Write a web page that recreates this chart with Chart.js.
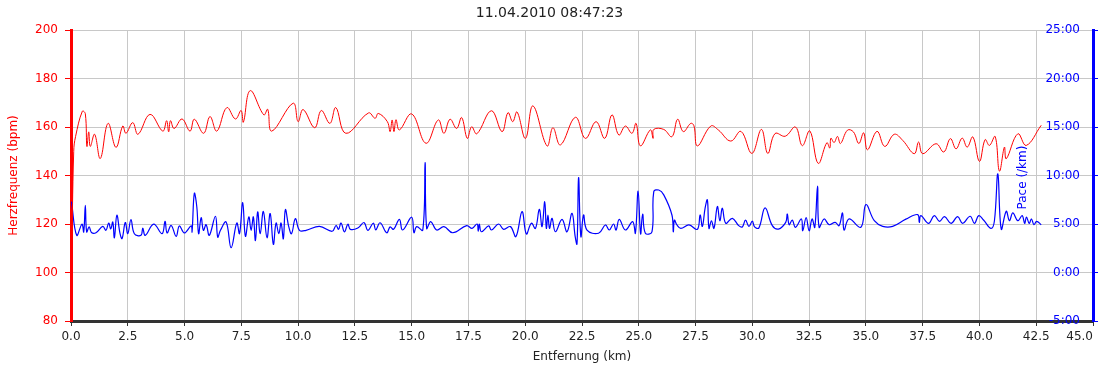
<!DOCTYPE html>
<html>
<head>
<meta charset="utf-8">
<script src="https://cdn.jsdelivr.net/npm/chart.js@4.4.0/dist/chart.umd.min.js"></script>
<style>
html, body { margin: 0; padding: 0; background: #fff; }
#wrap { width: 1099px; height: 372px; }
</style>
</head>
<body>
<div id="wrap"><canvas id="c" width="1099" height="372"></canvas></div>
<script>
// run header + axis texts
const chartTitle = '11.04.2010 08:47:23';
const xTitle = 'Entfernung (km)';
const hrTitle = 'Herzfrequenz (bpm)';
const paceTitle = 'Pace (/km)';

// heart rate, km vs bpm
const hrKm = [0.03, 0.12, 0.2, 0.5, 0.63, 0.7, 0.78, 0.85, 1.04, 1.29, 1.63, 1.98, 2.28, 2.42, 2.72, 2.95, 3.48, 4.04, 4.21, 4.3,
  4.38, 4.54, 4.89, 5.24, 5.43, 5.84, 6.12, 6.42, 6.86, 7.24, 7.49, 7.59, 7.89, 8.49, 8.66, 8.84, 9.78, 10.0, 10.22, 10.73,
  11.02, 11.4, 11.66, 12.1, 13.1, 13.39, 13.53, 13.93, 14.05, 14.14, 14.22, 14.31, 14.46, 15.0, 15.63, 16.17, 16.42, 16.69, 16.98, 17.2,
  17.45, 17.64, 17.87, 18.51, 18.98, 19.24, 19.45, 19.64, 20.01, 20.34, 20.96, 21.22, 21.55, 22.21, 22.65, 23.12, 23.5, 23.82, 24.12, 24.41,
  24.7, 24.88, 25.07, 25.51, 25.63, 25.66, 26.1, 26.46, 26.71, 26.96, 27.29, 27.43, 27.58, 28.17, 28.5, 29.05, 29.5, 29.98, 30.4, 30.68,
  31.0, 31.45, 31.9, 32.2, 32.53, 32.9, 33.28, 33.41, 33.46, 33.6, 33.75, 33.88, 34.19, 34.45, 34.69, 34.9, 35.07, 35.49, 35.83, 36.25,
  36.62, 37.13, 37.32, 37.5, 38.09, 38.43, 38.72, 38.97, 39.24, 39.46, 39.71, 40.0, 40.25, 40.44, 40.69, 40.88, 41.1, 41.18, 41.69, 42.06, 42.72];
const hrBpm = [104, 150, 156, 166.5, 165.5, 152, 158, 152, 157, 147, 161.5, 151.6, 160.4, 157.4, 161.8, 157, 165.2, 158.3, 162.6, 158,
  162.6, 159.4, 163.3, 158.3, 163.2, 157.4, 164.3, 158.3, 168, 163.3, 166.8, 162, 175, 165, 167.3, 158.3, 169.8, 162.2, 167.2, 159.7,
  166.8, 161.5, 168, 157.4, 165.8, 163.6, 165.6, 162.2, 158.1, 162.9, 158.1, 163, 158.8, 165.4, 153.3, 162.9, 157.4, 163.2, 159.4, 163.9,
  155.3, 160.1, 157.2, 166.7, 158.1, 165.9, 162.2, 166.2, 155.3, 168.7, 152.2, 159.7, 152.6, 164, 155.3, 162.2, 155.3, 165, 156.7, 160.4,
  157.4, 161.5, 152.2, 158.8, 155.3, 159, 159, 156, 163.2, 158.1, 161.5, 160.5, 152.2, 160.4, 158.8, 154.2, 158.2, 149.1, 159, 149.1,
  157.3, 156.2, 160, 152.3, 158.4, 145, 153.5, 151.3, 155.4, 153.6, 156.1, 153.2, 158.7, 158, 153.2, 157.6, 150.6, 158.2, 152, 157,
  154.5, 149, 153.8, 149, 153.1, 149.7, 155.2, 151, 155.4, 151.7, 155.9, 145.8, 154.8, 152.4, 156.1, 141.8, 151.7, 146.9, 157.2, 152.4, 160.7];

// pace, km vs minutes per km
const paceKm = [0.02, 0.25, 0.48, 0.56, 0.63, 0.69, 0.8, 0.9, 1.1, 1.4, 1.54, 1.66, 1.75, 1.84, 1.91, 2.02, 2.16, 2.25, 2.39, 2.5,
  2.64, 2.79, 3.08, 3.16, 3.27, 3.64, 4.01, 4.14, 4.23, 4.41, 4.63, 4.77, 4.99, 5.29, 5.33, 5.43, 5.54, 5.62, 5.73, 5.83,
  5.95, 6.09, 6.36, 6.46, 6.58, 6.83, 7.05, 7.3, 7.42, 7.56, 7.68, 7.83, 7.93, 8.03, 8.12, 8.22, 8.33, 8.47, 8.63, 8.77,
  8.91, 9.03, 9.15, 9.25, 9.35, 9.44, 9.59, 9.71, 9.88, 10.06, 10.35, 10.94, 11.5, 11.67, 11.78, 11.89, 12.04, 12.19, 12.3, 12.63,
  12.9, 13.07, 13.31, 13.42, 13.61, 13.9, 14.05, 14.2, 14.46, 14.6, 15.0, 15.1, 15.22, 15.49, 15.59, 15.66, 15.84, 16.1, 16.42, 16.81,
  17.42, 17.66, 17.88, 17.93, 17.98, 18.07, 18.39, 18.51, 18.83, 19.05, 19.35, 19.59, 19.86, 20.05, 20.27, 20.45, 20.62, 20.74, 20.86, 20.93,
  21.0, 21.07, 21.18, 21.33, 21.62, 21.84, 22.06, 22.2, 22.28, 22.35, 22.45, 22.57, 22.72, 23.23, 23.53, 23.7, 23.89, 24.0, 24.14, 24.41,
  24.73, 24.85, 24.97, 25.08, 25.17, 25.29, 25.58, 25.66, 25.88, 26.1, 26.46, 26.52, 26.57, 26.68, 26.85, 27.21, 27.58, 27.7, 27.8, 27.92,
  28.02, 28.09, 28.2, 28.31, 28.46, 28.57, 28.68, 28.83, 29.12, 29.4, 29.56, 29.7, 29.85, 30.0, 30.1, 30.29, 30.56, 30.88, 31.15, 31.47,
  31.54, 31.62, 31.76, 31.9, 32.16, 32.22, 32.37, 32.5, 32.63, 32.75, 32.87, 32.94, 33.16, 33.38, 33.65, 33.82, 33.97, 34.04, 34.26, 34.78,
  35.0, 35.37, 35.74, 36.18, 36.76, 37.28, 37.35, 37.42, 37.76, 38.01, 38.24, 38.46, 38.75, 39.04, 39.26, 39.59, 39.78, 39.97, 40.18, 40.51,
  40.66, 40.81, 40.96, 41.18, 41.32, 41.47, 41.69, 41.88, 41.99, 42.07, 42.19, 42.29, 42.4, 42.52, 42.72];
const paceMin = [7.3, 3.83, 4.98, 4.18, 6.93, 4.18, 4.7, 4.13, 4.1, 4.75, 4.35, 5.1, 4.5, 5.2, 3.58, 5.9, 4.0, 3.5, 5.15, 4.0,
  5.45, 4.0, 3.83, 4.58, 3.83, 4.98, 4.0, 5.28, 4.08, 4.85, 3.73, 4.8, 4.08, 4.8, 4.18, 8.15, 6.75, 4.0, 5.65, 4.35,
  4.93, 3.83, 5.8, 3.65, 4.35, 5.2, 2.55, 5.1, 4.0, 7.2, 3.73, 5.73, 4.35, 5.73, 3.3, 6.25, 4.0, 6.3, 3.58, 6.08,
  2.9, 5.1, 4.0, 5.1, 3.48, 6.48, 4.7, 4.0, 5.55, 4.35, 4.35, 4.75, 4.25, 4.85, 4.45, 5.1, 4.18, 4.98, 4.45, 4.58,
  5.15, 4.35, 5.08, 4.4, 5.13, 4.1, 4.7, 4.45, 5.48, 4.38, 5.7, 4.1, 4.73, 4.38, 11.33, 4.55, 5.25, 4.38, 4.73, 4.1,
  4.83, 4.55, 5.0, 4.25, 5.0, 4.2, 4.8, 4.38, 5.0, 4.45, 4.73, 3.7, 6.28, 3.98, 5.08, 4.55, 6.5, 4.73, 7.3, 4.55,
  5.93, 4.55, 5.58, 4.2, 5.48, 4.2, 6.1, 3.7, 2.95, 9.78, 3.7, 5.93, 4.38, 4.05, 4.9, 4.38, 5.0, 4.38, 5.48, 4.38,
  5.25, 4.05, 8.4, 3.98, 6.03, 4.05, 4.2, 8.33, 8.5, 8.0, 5.93, 4.2, 5.4, 4.9, 4.55, 4.9, 4.45, 5.93, 4.75, 6.63,
  7.48, 4.55, 5.33, 4.55, 6.8, 5.33, 6.63, 5.08, 5.58, 4.83, 4.7, 5.4, 4.75, 5.3, 4.7, 4.6, 6.66, 4.83, 4.48, 5.17,
  6.03, 4.93, 5.4, 4.66, 5.52, 4.3, 5.66, 4.3, 5.52, 4.66, 8.9, 4.66, 5.52, 4.93, 5.17, 4.83, 6.14, 4.38, 5.52, 4.66,
  7.0, 5.34, 4.76, 4.76, 5.5, 5.97, 5.17, 5.86, 5.07, 5.86, 5.28, 5.76, 5.07, 5.76, 5.07, 5.8, 5.07, 5.86, 5.41, 4.55,
  5.34, 10.17, 4.48, 6.31, 5.34, 6.14, 5.34, 5.86, 5.07, 5.72, 5.07, 5.52, 4.93, 5.28, 4.93];

const FONT = "'DejaVu Sans', Verdana, sans-serif";
Chart.defaults.font.family = FONT;
Chart.defaults.font.size = 12;

function paceLabel(v) {
    return (v < 0 ? '-' : '') + Math.abs(v) + ':00';
}

// last x label sits flush with the right axis, right aligned
const edgeLabels = {
    id: 'edgeLabels',
    beforeDraw(chart) {
        const items = chart.scales.x.getLabelItems();
        if (items.length) items[items.length - 1].options.textAlign = 'right';
    }
};

// pace title is drawn inside the plot, reading upwards
const paceTitlePlugin = {
    id: 'paceTitle',
    afterDraw(chart) {
        const s = chart.scales.y1;
        const ctx = chart.ctx;
        ctx.save();
        ctx.translate(s.left - 70, (s.top + s.bottom) / 2 + 2);
        ctx.rotate(-Math.PI / 2);
        ctx.font = '12px ' + FONT;
        ctx.fillStyle = '#0000ff';
        ctx.textAlign = 'center';
        ctx.textBaseline = 'middle';
        ctx.fillText(paceTitle, 0, 0);
        ctx.restore();
    }
};

new Chart(document.getElementById('c'), {
    type: 'line',
    data: {
        datasets: [
            {
                label: 'Herzfrequenz',
                data: hrKm.map((x, i) => ({ x, y: hrBpm[i] })),
                yAxisID: 'y',
                borderColor: '#ff0000',
                borderWidth: 1,
                pointRadius: 0,
                tension: 0.4,
                fill: false
            },
            {
                label: 'Pace',
                data: paceKm.map((x, i) => ({ x, y: paceMin[i] })),
                yAxisID: 'y1',
                borderColor: '#0000ff',
                borderWidth: 1.2,
                pointRadius: 0,
                tension: 0.4,
                fill: false
            }
        ]
    },
    options: {
        responsive: false,
        animation: false,
        events: [],
        layout: { padding: 0 },
        plugins: {
            legend: { display: false },
            tooltip: { enabled: false },
            title: {
                display: true,
                text: chartTitle,
                color: '#222',
                font: { size: 14, weight: 'normal' },
                padding: { top: 5, bottom: 8.2 }
            }
        },
        scales: {
            x: {
                type: 'linear',
                min: 0,
                max: 45,
                ticks: {
                    stepSize: 2.5,
                    autoSkip: false,
                    maxRotation: 0,
                    padding: 4,
                    color: '#222',
                    callback: v => v.toFixed(1)
                },
                grid: { color: '#c8c8c8', tickColor: '#333', tickLength: 5 },
                border: { color: '#333', width: 3 },
                title: { display: true, text: xTitle, color: '#222', padding: { top: 0, bottom: 8 } },
                afterFit(s) { s.height = 51; s.paddingLeft = 0; s.paddingRight = 0; }
            },
            y: {
                position: 'left',
                min: 80,
                max: 200,
                ticks: { stepSize: 20, color: '#ff0000', padding: 7 },
                grid: { color: '#c8c8c8', tickColor: '#ff0000', tickLength: 6 },
                border: { color: '#ff0000', width: 3 },
                title: { display: true, text: hrTitle, color: '#ff0000', padding: { top: 7, bottom: 0 } },
                afterFit(s) { s.width = 71; s.paddingTop = 0; s.paddingBottom = 0; }
            },
            y1: {
                position: 'right',
                min: -5,
                max: 25,
                ticks: { stepSize: 5, color: '#0000ff', mirror: true, padding: -13, callback: paceLabel },
                grid: { drawOnChartArea: false, tickColor: '#0000ff', tickLength: 5 },
                border: { color: '#0000ff', width: 3 },
                afterFit(s) { s.width = 6; s.paddingTop = 0; s.paddingBottom = 0; }
            }
        }
    },
    plugins: [edgeLabels, paceTitlePlugin]
});
</script>
</body>
</html>
